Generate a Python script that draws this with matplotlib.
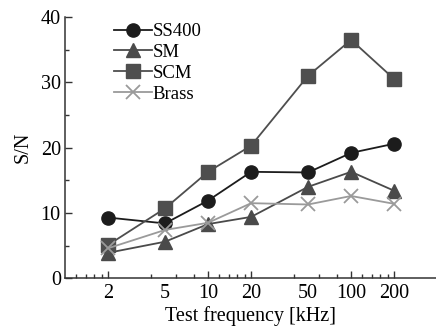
import matplotlib
matplotlib.use("Agg")
import matplotlib.pyplot as plt

# data
freq = [2, 5, 10, 20, 50, 100, 200]
ss400 = [9.3, 8.4, 11.9, 16.3, 16.2, 19.2, 20.6]
sm = [3.9, 5.6, 8.3, 9.4, 14.0, 16.3, 13.4]
scm = [5.1, 10.7, 16.3, 20.3, 31.0, 36.5, 30.5]
brass = [4.6, 7.4, 8.5, 11.5, 11.3, 12.6, 11.4]

x_labels = ["2", "5", "10", "20", "50", "100", "200"]
x_minor = [1.2, 1.4, 1.6, 1.8, 4, 6, 8, 12, 14, 16, 18, 40, 60, 80,
           120, 140, 160, 180]
y_major = [0, 10, 20, 30, 40]
y_minor = [5, 15, 25, 35]

plt.rcParams["font.family"] = ["Liberation Serif", "DejaVu Serif"]

fig = plt.figure(figsize=(4.36, 3.32), dpi=100)
ax = fig.add_axes([65 / 436, 53.7 / 332, 1 - 65 / 436, 261.3 / 332])

ax.plot(freq, ss400, color="#1c1c1c", lw=1.3, marker="o", ms=9.5, label="SS400")
ax.plot(freq, sm, color="#4a4a4a", lw=1.3, marker="^", ms=10, label="SM")
ax.plot(freq, scm, color="#4e4e4e", lw=1.3, marker="s", ms=9.5, label="SCM")
ax.plot(freq, brass, color="#9a9a9a", lw=1.3, marker="x", ms=10, mew=1.3,
        label="Brass")

ax.set_xscale("log")
ax.set_xlim(1, 392)
ax.set_ylim(0, 40)

ax.set_xticks(freq)
ax.set_xticklabels(x_labels)
ax.set_xticks(x_minor, minor=True)
ax.xaxis.set_minor_formatter(plt.NullFormatter())
ax.set_yticks(y_major)
ax.set_yticks(y_minor, minor=True)

# 5 and 50 are labelled but carry no tick mark
for t, v in zip(ax.xaxis.get_major_ticks(), freq):
    if v in (5, 50):
        t.tick1line.set_visible(False)

for side in ("top", "right"):
    ax.spines[side].set_visible(False)
for side in ("left", "bottom"):
    ax.spines[side].set_color("#333333")
    ax.spines[side].set_linewidth(1.1)

ax.tick_params(which="major", direction="in", length=5, width=1, color="#333333",
               labelsize=14.5, pad=4)
ax.tick_params(which="minor", direction="in", length=3, width=1, color="#333333")
ax.tick_params(axis="y", which="major", pad=3)

ax.set_xlabel("Test frequency [kHz]", fontsize=14.5, labelpad=2)
ax.set_ylabel("S/N", fontsize=14.5, labelpad=6)

ax.legend(loc="upper left", bbox_to_anchor=(114 / 436, (332 - 23) / 332),
          bbox_transform=fig.transFigure, frameon=False, fontsize=13.5,
          borderpad=0, borderaxespad=0, handlelength=2.0, handletextpad=0.05,
          labelspacing=0.2, numpoints=1)

fig.savefig("out.png", dpi=100)
